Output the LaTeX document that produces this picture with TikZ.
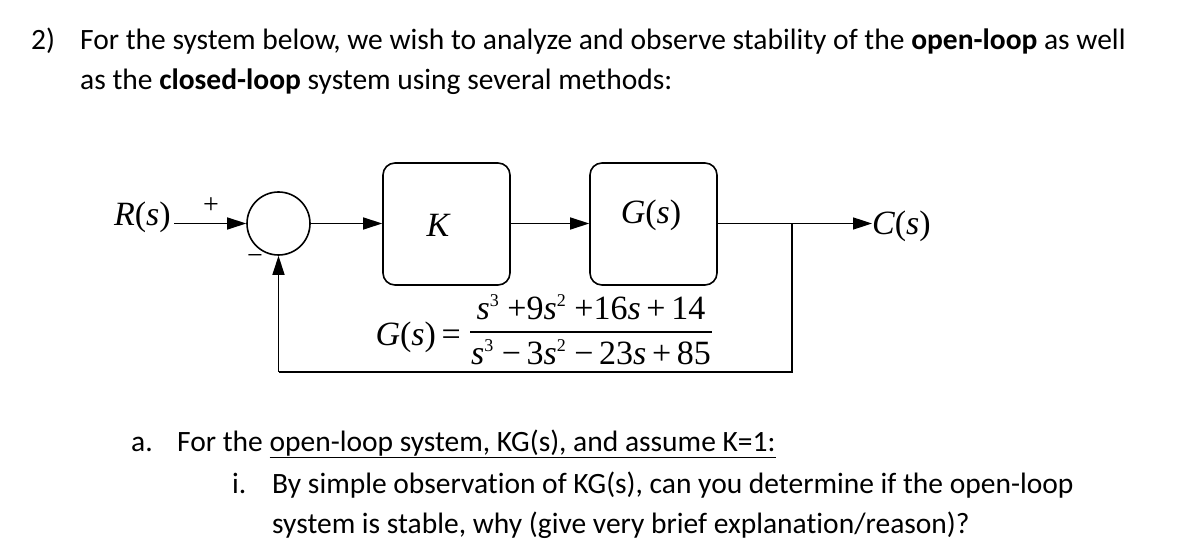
\documentclass[tikz,border=0pt]{standalone}
\usepackage{fontspec}
\setmainfont{Carlito}[Ligatures=NoCommon]
\newfontfamily\tms{Liberation Serif}
\usetikzlibrary{arrows.meta}
\newcommand{\mi}[1]{{\tms\itshape #1}}
\newcommand{\sups}[1]{\raisebox{0.4em}{\fontsize{18}{18}\selectfont\tms #1}}
\tikzset{
  txt/.style={anchor=base west, inner sep=0pt, font=\fontsize{29.5}{32}\selectfont},
  mth/.style={inner sep=0pt, font=\fontsize{34}{36}\selectfont\tms},
  blk/.style={draw, line width=1.6pt, rounded corners=12pt, minimum width=127pt, minimum height=122pt, inner sep=0pt},
  sumc/.style={draw, circle, line width=1.6pt, minimum size=63pt, inner sep=0pt},
  wire/.style={line width=1.6pt},
  arr/.style={wire, -{Triangle[length=19pt,width=12pt]}},
}
\begin{document}
\begin{tikzpicture}[x=1pt,y=-1pt]
\useasboundingbox (0,0) rectangle (1203,553);
% header text
\node[txt] (n2) at (31,50) {2)};
\node[txt] (l1) at (80,50) {For the system below, we wish to analyze and observe stability of the \textbf{open-loop} as well};
\node[txt] (l2) at (80,90) {as the \textbf{closed-loop} system using several methods:};
% block diagram
\node[mth, anchor=east] (R) at (171,217) {\mi{R}(\mi{s})};
\node[sumc] (sum) at (278.5,223.5) {};
\node[blk] (K) at (446.5,224) {};
\node[mth] (Kl) at (438,225) {\mi{K}};
\node[blk] (G) at (653.5,224) {};
\node[mth] (Gl) at (651,215) {\mi{G}(\mi{s})};
\node[mth, anchor=west] (C) at (872,226) {\mi{C}(\mi{s})};
\node[mth, font=\fontsize{28}{30}\selectfont\tms] (plus) at (211,206) {+};
\node[mth, font=\fontsize{28}{30}\selectfont\tms] (minus) at (255,260) {\textminus};
\coordinate (br) at (792,223.5);
\coordinate (bb) at (792,372);
\coordinate (bl) at (278.5,372);
\draw[arr] (R.east |- sum.west) ++(3,0) coordinate (rs) -- (sum.west);
\draw[arr] (sum.east) -- (K.west |- sum.east);
\draw[arr] (K.east |- sum.east) -- (G.west |- sum.east);
\draw[arr] (G.east |- sum.east) -- (C.west |- sum.east);
\draw[wire] (br) -- (bb) -- (bl);
\draw[arr] (bl) -- (sum.south);
% transfer function
\node[mth, anchor=base east] (Geq) at (461,346) {\mi{G}(\mi{s})\,=};
\node[mth, anchor=base] (num) at (591,320) {\mi{s}\sups{3} +9\mi{s}\sups{2} +16\mi{s}\,+\,14};
\node[mth, anchor=base] (den) at (591,365) {\mi{s}\sups{3} \textminus\,3\mi{s}\sups{2} \textminus\,23\mi{s}\,+\,85};
\coordinate (fl) at (470,332);
\coordinate (fr) at (712,332);
\draw[line width=1.5pt] (fl) -- (fr);
% questions
\node[txt] (la) at (131,451) {a.};
\node[txt] (ta) at (177,451) {For the \underline{open-loop system, KG(s), and assume K=1:}};
\node[txt] (li) at (232,493) {i.};
\node[txt] (ti) at (272,493) {By simple observation of KG(s), can you determine if the open-loop};
\node[txt] (tii) at (272,533) {system is stable, why (give very brief explanation/reason)?};
\end{tikzpicture}
\end{document}
